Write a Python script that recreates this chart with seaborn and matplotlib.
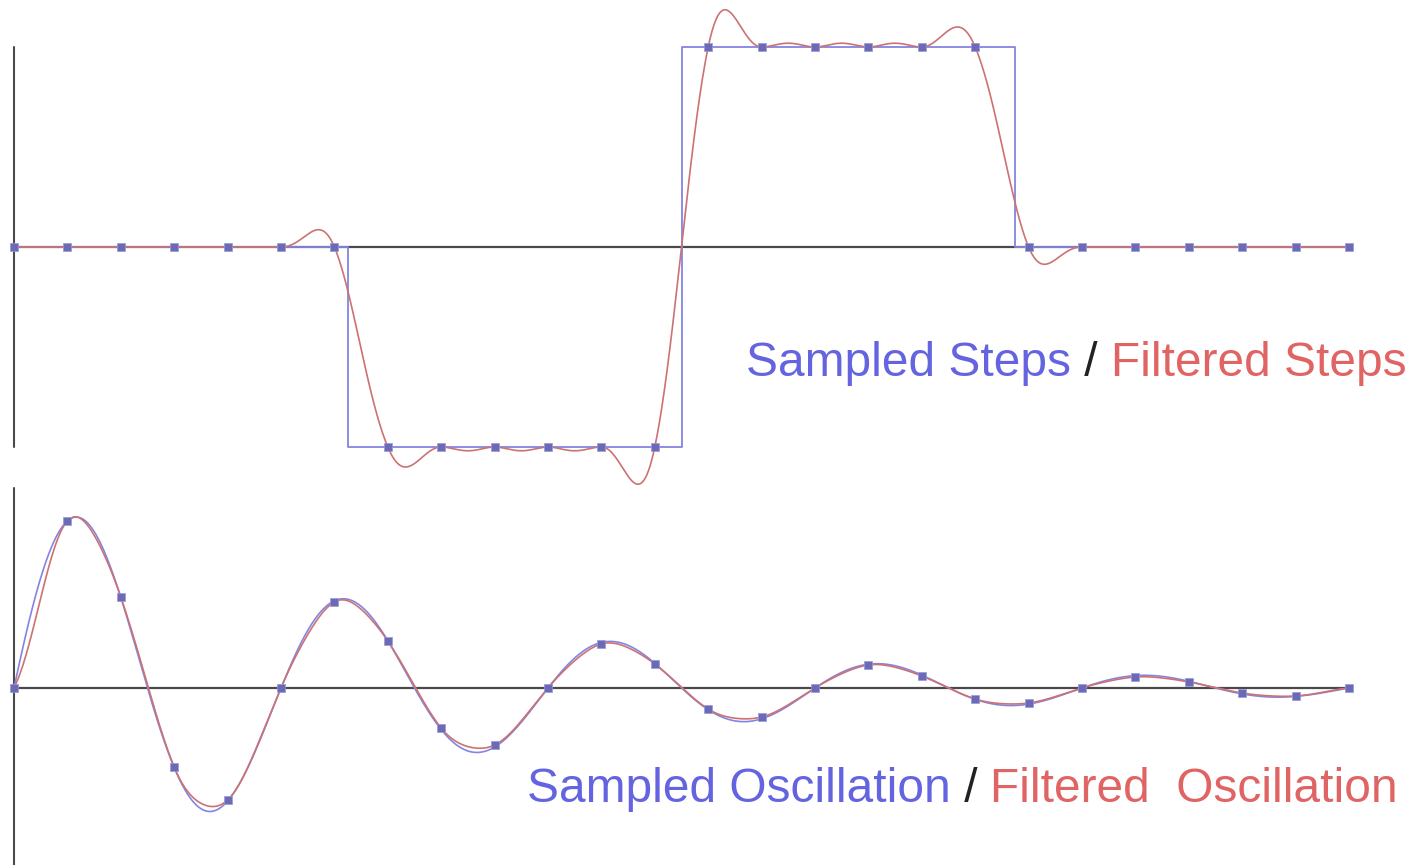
import numpy as np
import pandas as pd
import matplotlib
matplotlib.use("Agg")
import matplotlib.pyplot as plt
import seaborn as sns

# ---------------- data ----------------
sample_idx = list(range(26))
step_samples = [0, 0, 0, 0, 0, 0, 0, -1, -1, -1, -1, -1, -1,
                1, 1, 1, 1, 1, 1, 0, 0, 0, 0, 0, 0, 0]
step_edges_x = [0, 6.25, 12.5, 18.75, 25]
step_levels = [0, -1, 1, 0, 0]

osc_samples = [0.0, 0.835, 0.455, -0.395, -0.56, 0.0, 0.43, 0.235, -0.20, -0.285,
               0.0, 0.22, 0.12, -0.105, -0.145, 0.0, 0.115, 0.06, -0.055, -0.075,
               0.0, 0.055, 0.03, -0.025, -0.04, 0.0]
# continuous oscillation: amplitude, decay per sample, period in samples
osc_amp = 1.0
osc_decay = 0.13
osc_period = 5.0

title_top = [("Sampled Steps", "#6464e0"), (" / ", "#222222"), ("Filtered Steps", "#e06464")]
title_bot = [("Sampled Oscillation", "#6464e0"), (" / ", "#222222"), ("Filtered  Oscillation", "#e06464")]

# ---------------- style ----------------
sns.set_theme(style="white")
plt.rcParams["font.family"] = ["Liberation Sans", "DejaVu Sans"]

BLUE_LINE = "#8484e2"
RED_LINE = "#cc7272"
MARK = "#6a6ab6"
AXIS = "#4a4a4a"

W, H = 1414, 865
fig = plt.figure(figsize=(W / 100, H / 100), dpi=100)
fig.patch.set_facecolor("white")

x0_px, dx_px, vs = 14.0, 53.4, 200.0
xlim = (-x0_px / dx_px, (W - x0_px) / dx_px)
top_end = 520      # bottom pixel of top axes
bot_start = 467    # top pixel of bottom axes

ax1 = fig.add_axes([0, (H - top_end) / H, 1, top_end / H])
ax2 = fig.add_axes([0, 0, 1, (H - bot_start) / H])
ylim1 = (-(top_end - 247) / vs, 247 / vs)
ylim2 = (-(H - 688) / vs, (688 - bot_start) / vs)


def lanczos2(x):
    x = np.asarray(x, dtype=float)
    out = np.sinc(x) * np.sinc(x / 2.0)
    out[np.abs(x) >= 2] = 0.0
    return out


def filtered(samples, t):
    s = np.asarray(samples, dtype=float)
    n = np.asarray(sample_idx, dtype=float)
    return (s[None, :] * lanczos2(t[:, None] - n[None, :])).sum(axis=1)


t = np.linspace(0, 25, 2501)

# ---- top panel: steps ----
ax1.plot([0, 0], [-1, 1], color=AXIS, lw=1.5, zorder=1)
ax1.plot([0, 25], [0, 0], color=AXIS, lw=1.6, zorder=1)
ax1.plot(step_edges_x, step_levels, drawstyle="steps-post", color=BLUE_LINE, lw=1.3, zorder=2)
df_f1 = pd.DataFrame({"t": t, "v": filtered(step_samples, t)})
sns.lineplot(data=df_f1, x="t", y="v", ax=ax1, color=RED_LINE, lw=1.2, zorder=3)
df_s1 = pd.DataFrame({"t": sample_idx, "v": step_samples})
sns.scatterplot(data=df_s1, x="t", y="v", ax=ax1, color=MARK, marker="s", s=26,
                edgecolor="#9a9ad8", linewidth=0.5, zorder=4)

# ---- bottom panel: oscillation ----
ax2.plot([0, 0], [-1, 1], color=AXIS, lw=1.5, zorder=1)
ax2.plot([0, 25], [0, 0], color=AXIS, lw=1.6, zorder=1)
cont = osc_amp * np.exp(-osc_decay * t) * np.sin(2 * np.pi * t / osc_period)
df_c = pd.DataFrame({"t": t, "v": cont})
sns.lineplot(data=df_c, x="t", y="v", ax=ax2, color=BLUE_LINE, lw=1.2, zorder=2)
df_f2 = pd.DataFrame({"t": t, "v": filtered(osc_samples, t)})
sns.lineplot(data=df_f2, x="t", y="v", ax=ax2, color=RED_LINE, lw=1.2, zorder=3)
df_s2 = pd.DataFrame({"t": sample_idx, "v": osc_samples})
sns.scatterplot(data=df_s2, x="t", y="v", ax=ax2, color=MARK, marker="s", s=26,
                edgecolor="#9a9ad8", linewidth=0.5, zorder=4)

for ax in (ax1, ax2):
    ax.set_xlim(*xlim)
    ax.axis("off")
    ax.patch.set_visible(False)
    if ax.get_legend():
        ax.get_legend().remove()
ax1.set_ylim(*ylim1)
ax2.set_ylim(*ylim2)

# ---- multi-coloured titles ----
renderer = fig.canvas.get_renderer()
FS = 34.5


def width_of(s):
    tmp = fig.text(0, 0, s + "|", fontsize=FS)
    bar = fig.text(0, 0, "|", fontsize=FS)
    w = tmp.get_window_extent(renderer).width - bar.get_window_extent(renderer).width
    tmp.remove()
    bar.remove()
    return w


def colored_text(parts, x_px, y_px):
    prefix = ""
    for s, c in parts:
        xo = x_px + width_of(prefix) if prefix else x_px
        fig.text(xo / W, 1 - y_px / H, s, color=c, fontsize=FS, ha="left", va="baseline")
        prefix += s


colored_text(title_top, 746, 376)
colored_text(title_bot, 527, 802)

fig.savefig("out.png", dpi=100, facecolor="white")
